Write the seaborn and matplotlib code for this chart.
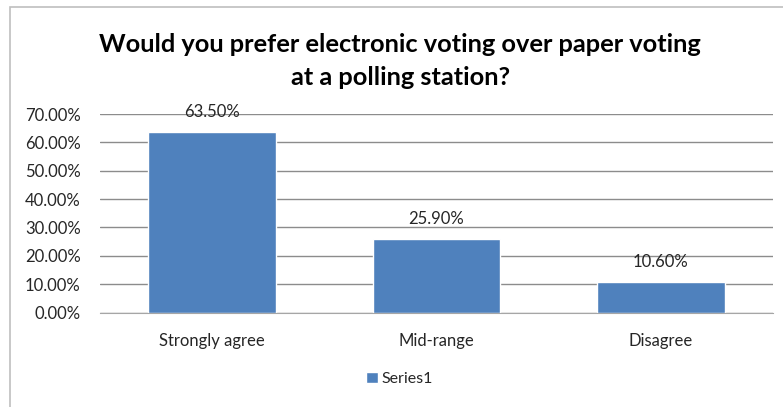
import matplotlib
matplotlib.use("Agg")
import matplotlib.pyplot as plt
from matplotlib.patches import Rectangle
from matplotlib.ticker import FuncFormatter, MultipleLocator
import seaborn as sns

sns.set_style("white")
plt.rcParams["font.family"] = ["Lato", "DejaVu Sans"]

CATEGORIES = ["Strongly agree", "Mid-range", "Disagree"]
VALUES = [63.5, 25.9, 10.6]
SERIES_NAME = "Series1"
TITLE = "Would you prefer electronic voting over paper voting\nat a polling station?"

BAR_COLOR = "#4F81BD"
GRID_COLOR = "#8C8C8C"
TEXT_COLOR = "#262626"
FS = 12

fig = plt.figure(figsize=(7.83, 4.07), dpi=100)
ax = fig.add_axes([100 / 783, 1 - 312.5 / 407, 673 / 783, 198.5 / 407])

sns.barplot(x=CATEGORIES, y=VALUES, color=BAR_COLOR, width=0.57,
            saturation=1, ax=ax)

ax.set_ylim(0, 70)
ax.yaxis.set_major_locator(MultipleLocator(10))
ax.yaxis.set_major_formatter(FuncFormatter(lambda v, _: f"{v:.2f}%"))
ax.grid(axis="y", color=GRID_COLOR, linewidth=1)
ax.set_axisbelow(True)
for side in ["left", "right", "top"]:
    ax.spines[side].set_visible(False)
ax.spines["bottom"].set_color("#A6A6A6")
ax.tick_params(axis="both", length=0, labelsize=FS, colors=TEXT_COLOR)
ax.tick_params(axis="y", pad=14)
ax.tick_params(axis="x", pad=15)
ax.set_xlabel("")
ax.set_ylabel("")

# value labels above bars
for bar, v in zip(ax.containers[0], VALUES):
    ax.annotate(f"{v:.2f}%", (bar.get_x() + bar.get_width() / 2, bar.get_height()),
                xytext=(0, 20), textcoords="offset pixels",
                ha="center", va="center", fontsize=FS, color=TEXT_COLOR)

fig.text(0.511, 1 - 61 / 407, TITLE, ha="center", va="center",
         fontsize=18.3, fontweight="bold", color="black", linespacing=1.55)

fig.legend([ax.containers[0]], [SERIES_NAME], loc="center",
           bbox_to_anchor=(0.51, 1 - 379 / 407), frameon=False,
           fontsize=11.5, handlelength=0.75, handleheight=0.75,
           handletextpad=0.25, labelcolor=TEXT_COLOR)

# chart border
fig.patches.append(Rectangle((10 / 783, -0.1), 1.0, 1.1 - 7 / 407,
                             transform=fig.transFigure, fill=False,
                             edgecolor="#BFBFBF", linewidth=1.2))

fig.savefig("out.png", dpi=100)
